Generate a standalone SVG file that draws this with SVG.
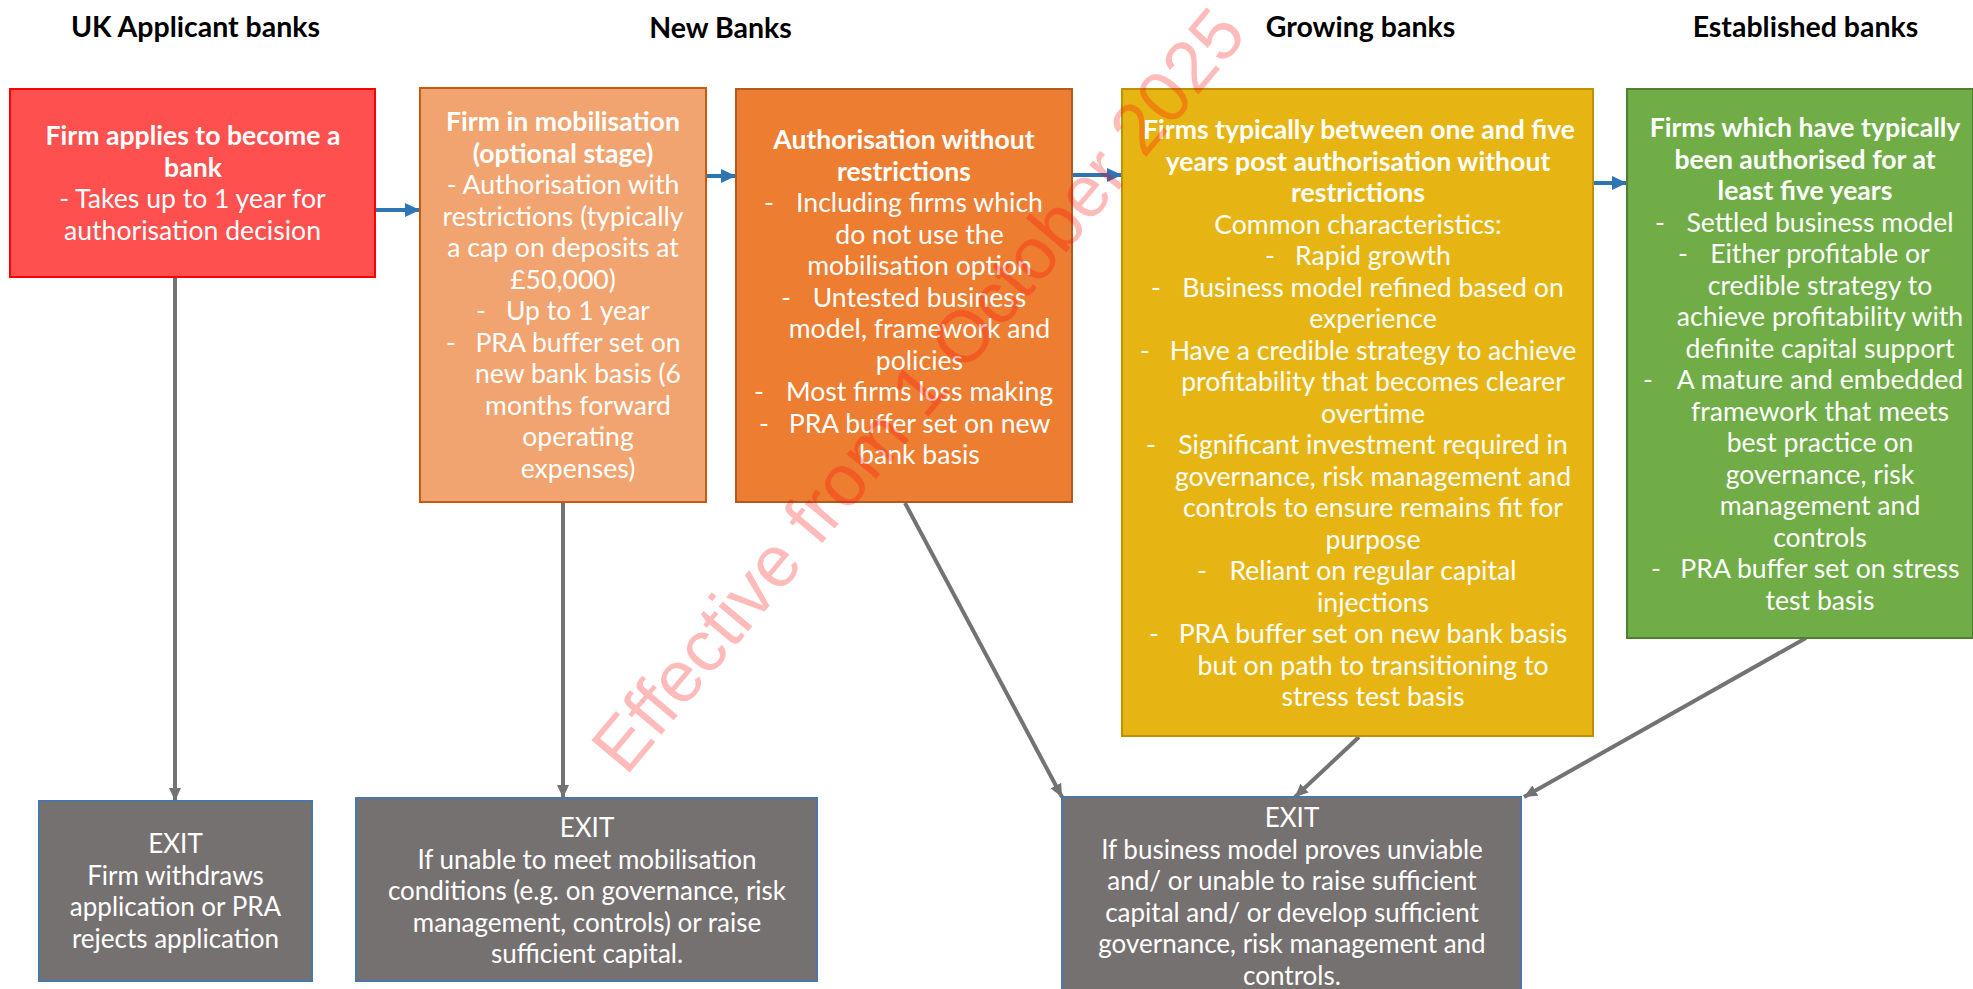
<svg xmlns="http://www.w3.org/2000/svg" width="1973" height="989" viewBox="0 0 1973 989">
<style>
.hdr{font-family:Lato,"Open Sans","Liberation Sans",sans-serif;font-size:28.5px;font-weight:bold;fill:#000;text-anchor:middle}
.t{font-family:Lato,"Open Sans","Liberation Sans",sans-serif;font-size:26.6px;fill:#fff;text-anchor:middle}
.e{font-size:26px}
.b{font-weight:bold}
.box{stroke-width:2}
.exit{fill:#767171;stroke:#4A76A8;stroke-width:2}
.flow{stroke:#2E75B6;stroke-width:4;fill:none}
.gl{stroke:#737373;stroke-width:4;fill:none}
.wm{font-family:"Liberation Sans",Arial,sans-serif;font-size:73px;fill:#FF0000;fill-opacity:0.27}
</style>
<defs>
<marker id="ab" markerUnits="userSpaceOnUse" markerWidth="16" markerHeight="14" refX="15" refY="7" orient="auto">
<path d="M0,0 L15,7 L0,14 Z" fill="#2E75B6"/>
</marker>
<marker id="ag" markerUnits="userSpaceOnUse" markerWidth="14" markerHeight="12" refX="13" refY="6" orient="auto">
<path d="M0,0 L13,6 L0,12 Z" fill="#737373"/>
</marker>
</defs>
<rect width="1973" height="989" fill="#fff"/>

<g id="headers">
<text class="hdr" x="195.5" y="37">UK Applicant banks</text>
<text class="hdr" x="720.5" y="38">New Banks</text>
<text class="hdr" x="1360.5" y="37">Growing banks</text>
<text class="hdr" x="1805.5" y="37">Established banks</text>
</g>

<g id="connectors">
<line class="flow" x1="375" y1="210" x2="420" y2="210" marker-end="url(#ab)"/>
<line class="flow" x1="706" y1="176" x2="736" y2="176" marker-end="url(#ab)"/>
<line class="flow" x1="1072" y1="175" x2="1122" y2="175" marker-end="url(#ab)"/>
<line class="flow" x1="1593" y1="183" x2="1627" y2="183" marker-end="url(#ab)"/>
<line class="gl" x1="175" y1="278" x2="175" y2="801" marker-end="url(#ag)"/>
<line class="gl" x1="563" y1="503" x2="563" y2="798" marker-end="url(#ag)"/>
<line class="gl" x1="905" y1="503" x2="1062" y2="797" marker-end="url(#ag)"/>
<line class="gl" x1="1359" y1="737" x2="1295" y2="797" marker-end="url(#ag)"/>
<line class="gl" x1="1806" y1="638" x2="1524" y2="797" marker-end="url(#ag)"/>
</g>

<g id="applicant">
<rect class="box" x="10" y="89" width="365" height="188" fill="#FF5050" stroke="#FF0000"/>
<text class="t b" x="193" y="145">Firm applies to become a</text>
<text class="t b" x="193" y="176.5">bank</text>
<text class="t" x="192.5" y="208">- Takes up to 1 year for</text>
<text class="t" x="192.5" y="239.5">authorisation decision</text>
</g>

<g id="mobilisation">
<rect class="box" x="420" y="88" width="286" height="414" fill="#F1A46F" stroke="#C55A11"/>
<text class="t b" x="563" y="131">Firm in mobilisation</text>
<text class="t b" x="563" y="162.5">(optional stage)</text>
<text class="t" x="563" y="194">- Authorisation with</text>
<text class="t" x="563" y="225.5">restrictions (typically</text>
<text class="t" x="563" y="257">a cap on deposits at</text>
<text class="t" x="563" y="288.5">£50,000)</text>
<text class="t" x="481" y="320">-</text><text class="t" x="578" y="320">Up to 1 year</text>
<text class="t" x="451" y="351.5">-</text><text class="t" x="578" y="351.5">PRA buffer set on</text>
<text class="t" x="578" y="383">new bank basis (6</text>
<text class="t" x="578" y="414.5">months forward</text>
<text class="t" x="578" y="446">operating</text>
<text class="t" x="578" y="477.5">expenses)</text>
</g>

<g id="unrestricted">
<rect class="box" x="736" y="89" width="336" height="413" fill="#ED7D31" stroke="#AE5A21"/>
<text class="t b" x="904" y="149">Authorisation without</text>
<text class="t b" x="904" y="180.5">restrictions</text>
<text class="t" x="769" y="212">-</text><text class="t" x="919.5" y="212">Including firms which</text>
<text class="t" x="919.5" y="243.5">do not use the</text>
<text class="t" x="919.5" y="275">mobilisation option</text>
<text class="t" x="786" y="306.5">-</text><text class="t" x="919.5" y="306.5">Untested business</text>
<text class="t" x="919.5" y="338">model, framework and</text>
<text class="t" x="919.5" y="369.5">policies</text>
<text class="t" x="759" y="401">-</text><text class="t" x="919.5" y="401">Most firms loss making</text>
<text class="t" x="764" y="432.5">-</text><text class="t" x="919.5" y="432.5">PRA buffer set on new</text>
<text class="t" x="919.5" y="464">bank basis</text>
</g>

<g id="growing">
<rect class="box" x="1122" y="89" width="471" height="647" fill="#E7B513" stroke="#BF9000"/>
<text class="t b" x="1359" y="139">Firms typically between one and five</text>
<text class="t b" x="1358" y="170.5">years post authorisation without</text>
<text class="t b" x="1358" y="202">restrictions</text>
<text class="t" x="1358" y="233.5">Common characteristics:</text>
<text class="t" x="1270" y="265">-</text><text class="t" x="1373" y="265">Rapid growth</text>
<text class="t" x="1156" y="296.5">-</text><text class="t" x="1373" y="296.5">Business model refined based on</text>
<text class="t" x="1373" y="328">experience</text>
<text class="t" x="1145" y="359.5">-</text><text class="t" x="1373" y="359.5">Have a credible strategy to achieve</text>
<text class="t" x="1373" y="391">profitability that becomes clearer</text>
<text class="t" x="1373" y="422.5">overtime</text>
<text class="t" x="1151" y="454">-</text><text class="t" x="1373" y="454">Significant investment required in</text>
<text class="t" x="1373" y="485.5">governance, risk management and</text>
<text class="t" x="1373" y="517">controls to ensure remains fit for</text>
<text class="t" x="1373" y="548.5">purpose</text>
<text class="t" x="1202" y="580">-</text><text class="t" x="1373" y="580">Reliant on regular capital</text>
<text class="t" x="1373" y="611.5">injections</text>
<text class="t" x="1154" y="643">-</text><text class="t" x="1373" y="643">PRA buffer set on new bank basis</text>
<text class="t" x="1373" y="674.5">but on path to transitioning to</text>
<text class="t" x="1373" y="706">stress test basis</text>
</g>

<g id="established">
<rect class="box" x="1627" y="89" width="346" height="549" fill="#70AD47" stroke="#507E32"/>
<text class="t b" x="1805" y="137">Firms which have typically</text>
<text class="t b" x="1805" y="168.5">been authorised for at</text>
<text class="t b" x="1805" y="200">least five years</text>
<text class="t" x="1660" y="231.5">-</text><text class="t" x="1820" y="231.5">Settled business model</text>
<text class="t" x="1683" y="263">-</text><text class="t" x="1820" y="263">Either profitable or</text>
<text class="t" x="1820" y="294.5">credible strategy to</text>
<text class="t" x="1820" y="326">achieve profitability with</text>
<text class="t" x="1820" y="357.5">definite capital support</text>
<text class="t" x="1648" y="389">-</text><text class="t" x="1820" y="389">A mature and embedded</text>
<text class="t" x="1820" y="420.5">framework that meets</text>
<text class="t" x="1820" y="452">best practice on</text>
<text class="t" x="1820" y="483.5">governance, risk</text>
<text class="t" x="1820" y="515">management and</text>
<text class="t" x="1820" y="546.5">controls</text>
<text class="t" x="1656" y="578">-</text><text class="t" x="1820" y="578">PRA buffer set on stress</text>
<text class="t" x="1820" y="609.5">test basis</text>
</g>

<g id="exit1">
<rect class="exit" x="39" y="801" width="273" height="180"/>
<text class="t e" x="175.5" y="853">EXIT</text>
<text class="t e" x="175.5" y="884.5">Firm withdraws</text>
<text class="t e" x="175.5" y="916">application or PRA</text>
<text class="t e" x="175.5" y="947.5">rejects application</text>
</g>

<g id="exit2">
<rect class="exit" x="356" y="798" width="461" height="183"/>
<text class="t e" x="587" y="837">EXIT</text>
<text class="t e" x="587" y="868.5">If unable to meet mobilisation</text>
<text class="t e" x="587" y="900">conditions (e.g. on governance, risk</text>
<text class="t e" x="587" y="931.5">management, controls) or raise</text>
<text class="t e" x="587" y="963">sufficient capital.</text>
</g>

<g id="exit3">
<rect class="exit" x="1062" y="797" width="459" height="200"/>
<text class="t e" x="1292" y="827">EXIT</text>
<text class="t e" x="1292" y="858.5">If business model proves unviable</text>
<text class="t e" x="1292" y="890">and/ or unable to raise sufficient</text>
<text class="t e" x="1292" y="921.5">capital and/ or develop sufficient</text>
<text class="t e" x="1292" y="953">governance, risk management and</text>
<text class="t e" x="1292" y="984.5">controls.</text>
</g>

<g id="watermark">
<text class="wm" transform="translate(626 777) rotate(-50)">Effective from 1 October 2025</text>
</g>
</svg>
